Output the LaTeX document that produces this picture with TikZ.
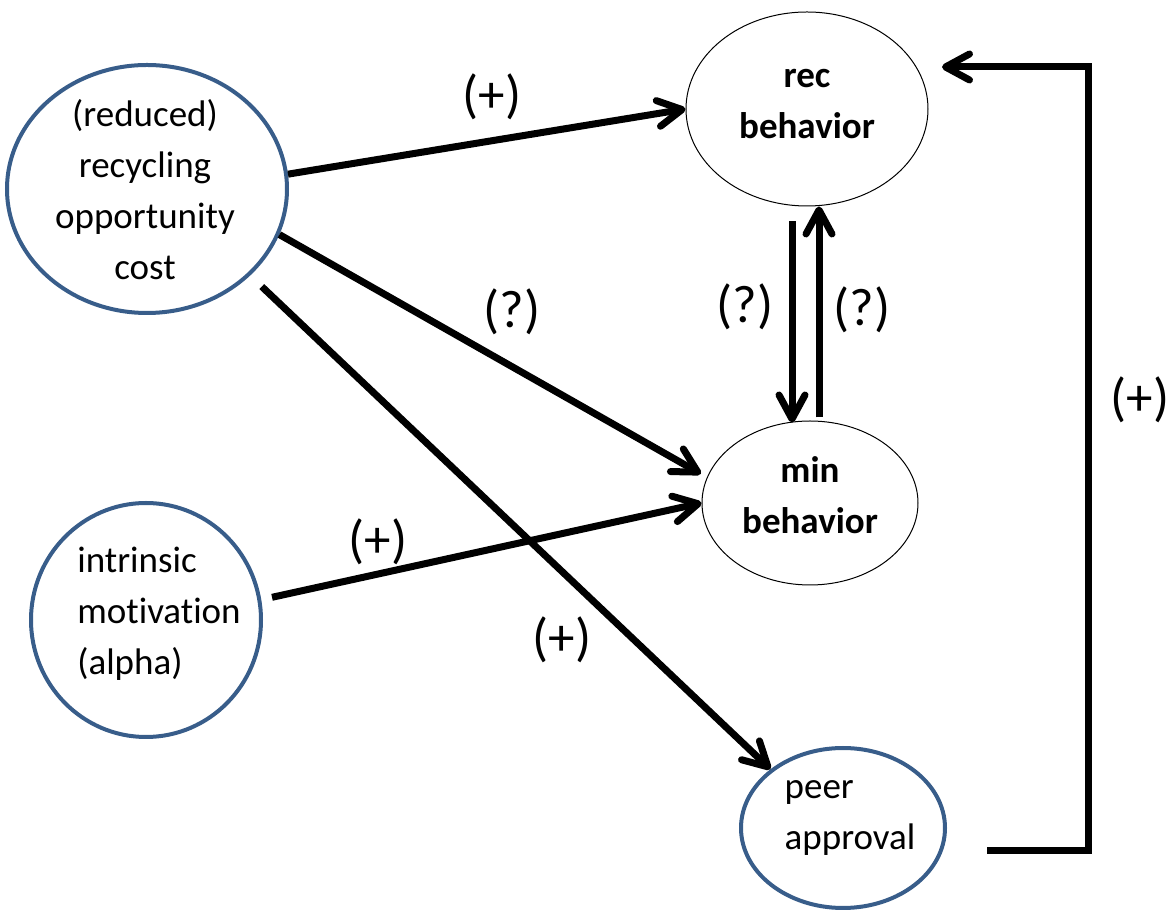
\documentclass[tikz,border=0pt]{standalone}
\usepackage{fontspec}
\setmainfont{Carlito}[Ligatures=NoCommon]
\usetikzlibrary{arrows.meta,shapes.geometric}
\definecolor{ovalblue}{RGB}{56,93,138}

\begin{document}
\begin{tikzpicture}[x=0.5pt,y=-0.5pt,
      link/.style={-{Straight Barb[length=12pt,width=13pt,round]},line width=3.5pt},
      oval/.style={ellipse,draw,inner sep=0pt},
      factor/.style={oval,draw=ovalblue,line width=2pt},
      outcome/.style={oval,line width=0.5pt},
      words/.style={inner sep=0pt,font=\fontsize{18.5}{25.5}\selectfont},
      sign/.style={font=\fontsize{26.5}{30}\selectfont}]
 \useasboundingbox (0,0) rectangle (1174,913);

 \node[factor, minimum width=140pt, minimum height=124pt] (cost) at (147,189) {};
 \node[factor, minimum width=115pt, minimum height=117pt] (intr) at (146,620) {};
 \node[outcome, minimum width=121pt, minimum height=97pt] (rec) at (807,109) {};
 \node[outcome, minimum width=108pt, minimum height=82pt] (min) at (810,503) {};
 \node[factor, minimum width=102pt, minimum height=80pt] (peer) at (843,828) {};

 % texts in the ovals
 \node[words, align=center] (cost-txt) at (145,190) {(reduced)\\recycling\\opportunity\\cost};
 \node[words, align=left] (intr-txt) at (159,614) {intrinsic\\motivation\\(alpha)};
 \node[words, align=center, font=\fontsize{18.5}{25.5}\selectfont\bfseries] (rec-txt) at (807,104) {rec\\behavior};
 \node[words, align=center, font=\fontsize{18.5}{25.5}\selectfont\bfseries] (min-txt) at (810,495) {min\\behavior};
 \node[words, align=left] (peer-txt) at (850,818) {peer\\approval};

 % links between the ovals
 \draw[link] (cost.6) -- (rec.west);
 \draw[link, shorten >=3.5pt] (cost.-19) -- (min.166);
 \draw[link, shorten <=8pt] (cost.-40) -- (peer.141);
 \draw[link, shorten <=5.5pt] (intr.10) -- (min.west);
 \draw[link] ([shift={(-15,15)}]rec.south) -- ([shift={(-18,2)}]min.north);
 \draw[link] ([shift={(9,-3)}]min.north) -- ([shift={(12,0)}]rec.south);

 % feedback from peer approval
 \coordinate (fbstart) at ([shift={(40,23)}]peer.east);
 \coordinate (fbturn) at (1088,67);
 \coordinate (fbend) at (942,67);
 \draw[link] (fbstart) -| (fbturn) -- (fbend);

 \node[sign] (s1) at (492,97) {(+)};
 \node[sign] (s2) at (512,312) {(?)};
 \node[sign] (s3) at (562,640) {(+)};
 \node[sign] (s4) at (378,542) {(+)};
 \node[sign] (s5) at (745,307) {(?)};
 \node[sign] (s6) at (862,310) {(?)};
 \node[sign] (s7) at (1140,400) {(+)};
\end{tikzpicture}
\end{document}
